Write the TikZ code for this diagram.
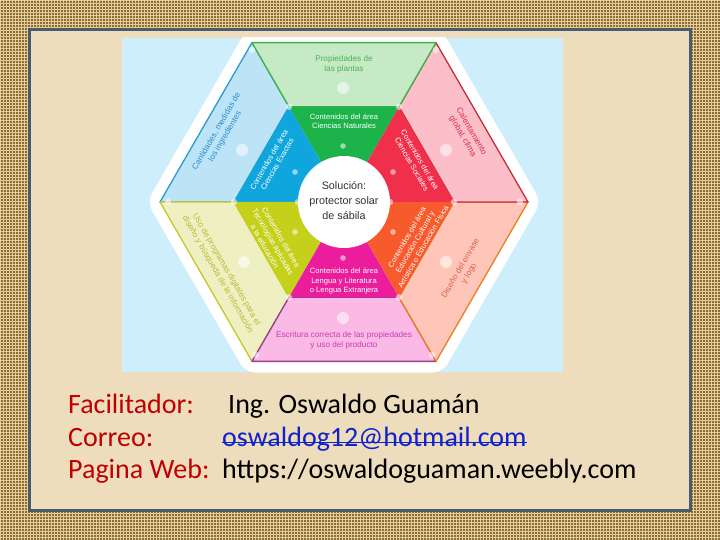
\documentclass[tikz,border=0pt]{standalone}
\usepackage{fontspec}
\setmainfont{Liberation Sans}
\newfontfamily\calfont{Carlito}
\usetikzlibrary{patterns}
\definecolor{burlap}{HTML}{8E6C37}
\definecolor{thread}{HTML}{E2CD98}
\definecolor{parch}{HTML}{EDDDBD}
\definecolor{panelline}{HTML}{4B5B6B}
\definecolor{picbg}{HTML}{CDEEFA}
\definecolor{lblue}{HTML}{BDE3F6}
\definecolor{lblueL}{HTML}{2A9AD4}
\definecolor{dblue}{HTML}{0EA6DD}
\definecolor{lgreen}{HTML}{C6EAC5}
\definecolor{lgreenL}{HTML}{3FB34A}
\definecolor{dgreen}{HTML}{1DB34B}
\definecolor{lpink}{HTML}{FCBEC8}
\definecolor{lpinkL}{HTML}{C22E3A}
\definecolor{dred}{HTML}{F0304B}
\definecolor{lpeach}{HTML}{FDC6B8}
\definecolor{lpeachL}{HTML}{EE7C22}
\definecolor{dorange}{HTML}{F65A2D}
\definecolor{lmag}{HTML}{FBB9E6}
\definecolor{lmagL}{HTML}{953C8C}
\definecolor{dmag}{HTML}{EB1D9C}
\definecolor{lyel}{HTML}{EEF0C2}
\definecolor{lyelL}{HTML}{C9C62A}
\definecolor{dolive}{HTML}{C5D01B}
\definecolor{tgreen}{HTML}{4DB353}
\definecolor{tblue}{HTML}{2A8ED0}
\definecolor{tpink}{HTML}{D8304B}
\definecolor{tpeach}{HTML}{D8654A}
\definecolor{tmag}{HTML}{C73CB4}
\definecolor{tyel}{HTML}{BDB832}
\definecolor{ctext}{HTML}{333333}
\definecolor{labred}{HTML}{C00000}
\definecolor{linkblue}{HTML}{1122CC}
\tikzset{
  outseg/.style={line width=1.3pt, line join=round},
  intext/.style={text=white, align=center, font=\fontsize{7.6}{9.3}\selectfont, inner sep=0pt},
  outtext/.style={align=center, font=\fontsize{8.2}{10}\selectfont, inner sep=0pt},
  sparkle/.style={fill=white, opacity=0.55},
  lab/.style={anchor=base west, inner sep=0pt, font=\calfont\fontsize{28}{32}\selectfont}
}
\begin{document}
\begin{tikzpicture}[x=1pt,y=-1pt]
\useasboundingbox (0,0) rectangle (720,540);
\fill[burlap] (0,0) rectangle (720,540);
\fill[pattern=grid, pattern color=thread] (0,0) rectangle (720,540);
\draw[panelline, line width=3pt, fill=parch] (29.5,29.5) rectangle (690.5,510.5);
\fill[picbg] (122,38) rectangle (563,372);
% geometry
\coordinate (C) at (344,202);
\coordinate (O0) at (528,202);
\coordinate (O1) at (436,42.65);
\coordinate (O2) at (252,42.65);
\coordinate (O3) at (160,202);
\coordinate (O4) at (252,361.35);
\coordinate (O5) at (436,361.35);
\coordinate (I0) at (454,202);
\coordinate (I1) at (399,106.74);
\coordinate (I2) at (289,106.74);
\coordinate (I3) at (234,202);
\coordinate (I4) at (289,297.26);
\coordinate (I5) at (399,297.26);
\begin{scope}
\clip (122,38) rectangle (563,372);
\fill[white, rounded corners=10] (541,202) -- (442.5,31.4) -- (245.5,31.4) -- (147,202) -- (245.5,372.6) -- (442.5,372.6) -- cycle;
\end{scope}
% outer segments
\filldraw[outseg, fill=lblue, draw=lblueL] (O2) -- (O3) -- (I3) -- (I2) -- cycle;
\filldraw[outseg, fill=lyel, draw=lyelL] (O3) -- (O4) -- (I4) -- (I3) -- cycle;
\filldraw[outseg, fill=lmag, draw=lmagL] (O4) -- (O5) -- (I5) -- (I4) -- cycle;
\filldraw[outseg, fill=lpeach, draw=lpeachL] (O5) -- (O0) -- (I0) -- (I5) -- cycle;
\filldraw[outseg, fill=lpink, draw=lpinkL] (O0) -- (O1) -- (I1) -- (I0) -- cycle;
\filldraw[outseg, fill=lgreen, draw=lgreenL] (O1) -- (O2) -- (I2) -- (I1) -- cycle;
% inner segments
\fill[dgreen] (C) -- (I1) -- (I2) -- cycle;
\fill[dblue] (C) -- (I2) -- (I3) -- cycle;
\fill[dolive] (C) -- (I3) -- (I4) -- cycle;
\fill[dmag] (C) -- (I4) -- (I5) -- cycle;
\fill[dorange] (C) -- (I5) -- (I0) -- cycle;
\fill[dred] (C) -- (I0) -- (I1) -- cycle;
% sparkles
\foreach \p in {(289,106.74),(399,106.74),(234,202),(454,202),(289,297.26),(399,297.26),(298,202),(390,202),(252,50),(436,50),(168,202),(520,202),(256,355),(432,355)}
  \fill[sparkle] \p circle (3.2);
\foreach \p in {(343,88),(242,150),(446,150),(244,262),(446,262),(343,318)}
  \fill[sparkle] \p circle (6);
\foreach \p in {(343,146),(295,172),(393,172),(295,232),(393,232),(343,258)}
  \fill[sparkle] \p circle (2.8);
% circle
\fill[white] (C) circle (46);
\node[align=center, text=ctext, font=\fontsize{10.8}{15}\selectfont, inner sep=0pt] (sol) at (344,201) {Soluci\'on:\\protector solar\\de s\'abila};
% inner texts
\node[intext] (nat) at (344,121) {Contenidos del \'area\\Ciencias Naturales};
\node[intext, rotate=60] (exa) at (273,162) {Contenidos del \'area\\Ciencias Exactas};
\node[intext, rotate=-60] (soc) at (416,162) {Contenidos del \'area\\Ciencias Sociales};
\node[intext, rotate=60] (edu) at (415,242) {Contenidos del \'area\\Educaci\'on Cultural y\\Art\'istica o Educaci\'on F\'isica};
\node[intext, rotate=-60] (tec) at (273,242) {Contenidos del \'area\\Tecnolog\'ias aplicadas\\a la educaci\'on};
\node[intext] (len) at (344,281) {Contenidos del \'area\\Lengua y Literatura\\o Lengua Extranjera};
% outer texts
\node[outtext, text=tgreen] (pla) at (344,64) {Propiedades de\\las plantas};
\node[outtext, text=tblue, rotate=60] (can) at (221,134) {Cantidades, medidas de\\los ingredientes};
\node[outtext, text=tpink, rotate=-60] (cal) at (467,134) {Calentamiento\\global, clima};
\node[outtext, text=tpeach, rotate=60] (dis) at (465,271) {Dise\~no del envase\\y logo};
\node[outtext, text=tyel, rotate=-60] (uso) at (222,272) {Uso de programas digitales para el\\dise\~no y b\'usqueda de la informaci\'on};
\node[outtext, text=tmag] (esc) at (344,340) {Escritura correcta de las propiedades\\y uso del producto};
% bottom text
\node[lab, text=labred] (l1) at (68,413) {Facilitador:};
\node[lab, text=black] (v1) at (228,413) {Ing. Oswaldo Guam\'an};
\node[lab, text=labred] (l2) at (68,446) {Correo:};
\node[lab, text=linkblue] (v2) at (222,446) {oswaldog12@hotmail.com};
\draw[linkblue, line width=1.4pt] ([yshift=3.5]v2.base west) -- ([yshift=3.5]v2.base east);
\node[lab, text=labred] (l3) at (68,478) {Pagina Web:};
\node[lab, text=black] (v3) at (222,478) {https://oswaldoguaman.weebly.com};
\end{tikzpicture}
\end{document}
